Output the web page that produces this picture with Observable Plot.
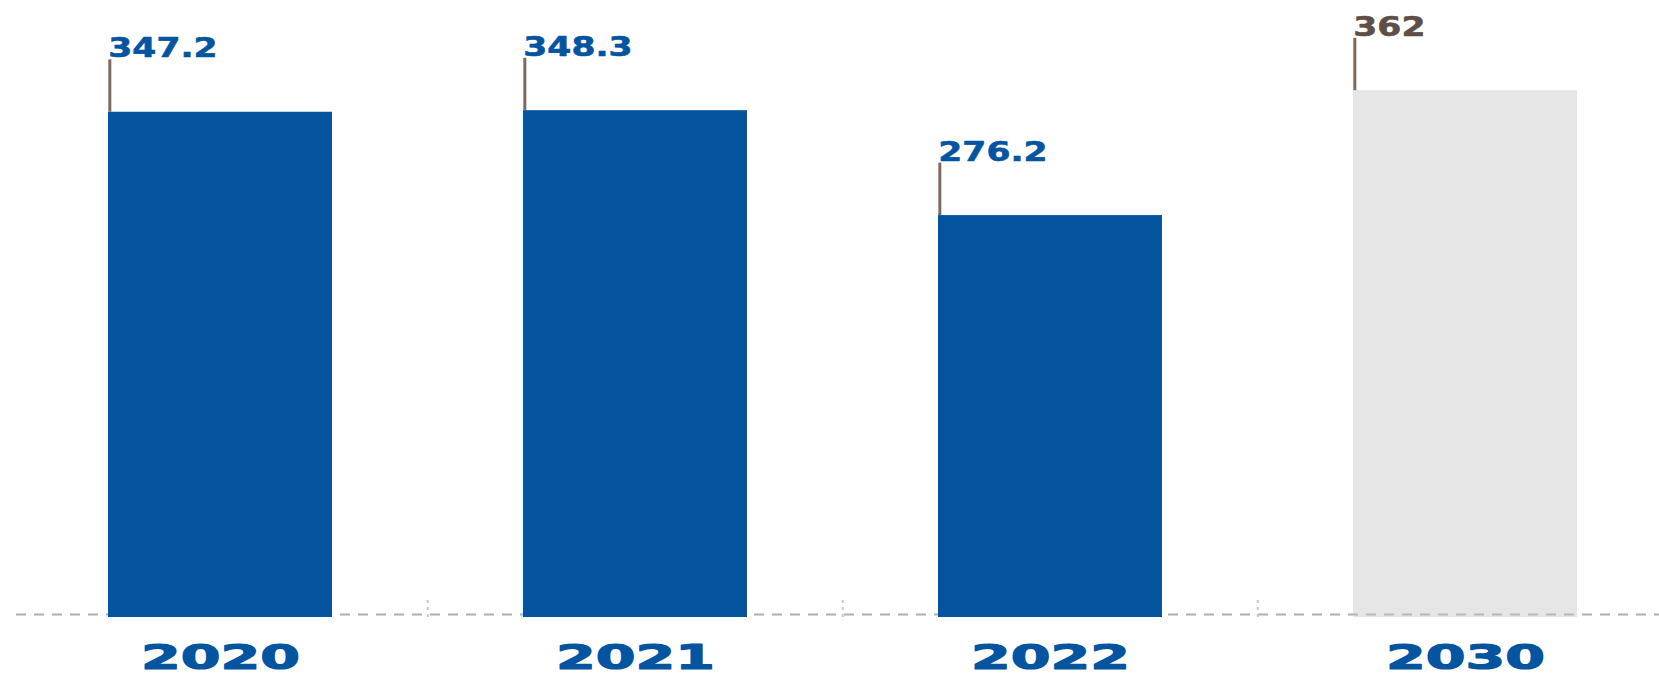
<!DOCTYPE html>
<html><head><meta charset="utf-8">
<script src="https://cdn.jsdelivr.net/npm/d3@7"></script>
<script src="https://cdn.jsdelivr.net/npm/@observablehq/plot@0.6"></script>
<style>body{margin:0;background:#fff;overflow:hidden}</style>
</head><body><div id="chart"></div>
<script>
const years = ["2020", "2021", "2022", "2030"];
const values = [347.2, 348.3, 276.2, 362];
const valueLabels = ["347.2", "348.3", "276.2", "362"];
const kinds = ["actual", "actual", "actual", "target"];

const data = years.map((y, i) => ({year: y, value: values[i], label: valueLabels[i], kind: kinds[i]}));

const W = 1659, H = 674;
const xRange = [12, 1674];
const padIn = 0.46;
const step = (xRange[1] - xRange[0]) / years.length;
const bw = step * (1 - padIn);
const blue = "#04549f", grey = "#c4c4c4", brown = "#5f4e45", lead = "#7b6a60";
const font = "DejaVu Sans, Verdana, sans-serif";

const plot = Plot.plot({
  width: W, height: H,
  marginLeft: 16, marginRight: 0, marginTop: 0, marginBottom: 57,
  style: {fontFamily: font, background: "#fff"},
  x: {domain: years, range: xRange, paddingInner: padIn, paddingOuter: padIn / 2, axis: null},
  y: {domain: [0, 424], axis: null},
  color: {type: "identity"},
  marks: [
    Plot.ruleY([0], {stroke: "#b0b0b0", strokeWidth: 2, strokeDasharray: "10,8", dy: -3}),
    Plot.ruleX(years.slice(1), {x: d => d, dx: -step / 2, y1: 0, y2: 14, stroke: "#c8c8c8", strokeWidth: 2, strokeDasharray: "3,4"}),
    Plot.barY(data, {x: "year", y: "value", fill: d => d.kind === "target" ? grey : blue,
      fillOpacity: d => d.kind === "target" ? 0.42 : 1}),
    Plot.ruleX(data, {x: "year", dx: -bw / 2 + 1.5, y1: "value", y2: d => d.value + 36, stroke: lead, strokeWidth: 3}),
    Plot.text(data, {x: "year", dx: -bw / 2, y: "value", dy: -55, text: "label", textAnchor: "start", lineAnchor: "bottom",
      fill: d => d.kind === "target" ? brown : blue, stroke: d => d.kind === "target" ? brown : blue, strokeWidth: 0.6,
      fontSize: 27, fontWeight: "bold"}),
    Plot.text(data, {x: "year", y: 0, dy: 51, text: "year", lineAnchor: "bottom", fill: blue, stroke: blue, strokeWidth: 1.2,
      fontSize: 34, fontWeight: "bold"})
  ]
});

function stretch(g, sx) {
  if (!g) return;
  g.querySelectorAll("text").forEach(t => {
    const x = +t.getAttribute("x") || 0, y = +t.getAttribute("y") || 0;
    t.removeAttribute("x"); t.removeAttribute("y");
    const tr = t.getAttribute("transform") || "";
    t.setAttribute("transform", `${tr} translate(${x},${y}) scale(${sx},1)`);
  });
}
const textGroups = plot.querySelectorAll('g[aria-label="text"]');
stretch(textGroups[0], 1.28);
stretch(textGroups[1], 1.68);
document.getElementById("chart").appendChild(plot);
</script>
</body></html>
